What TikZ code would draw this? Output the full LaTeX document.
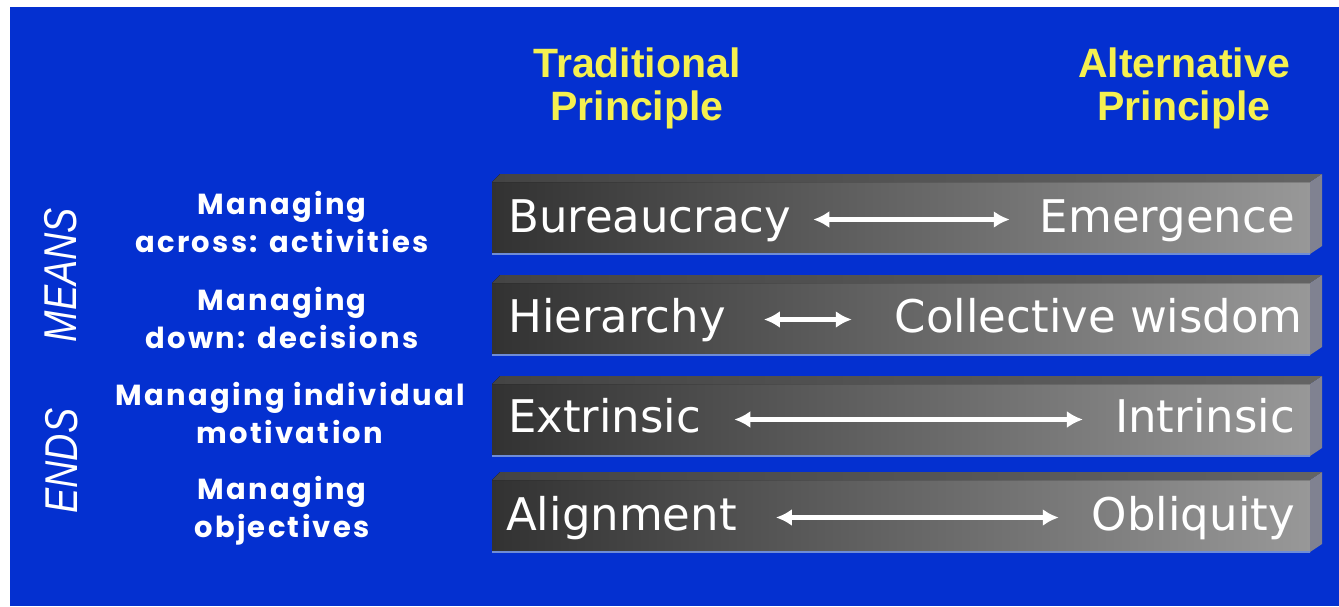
\documentclass[tikz,border=0pt]{standalone}
\usepackage{fontspec}
\usetikzlibrary{arrows.meta}
\newfontfamily\barfont{DejaVu Sans}
\newfontfamily\headfont{Liberation Sans}
\newfontfamily\labfont{Poppins}[LetterSpace=8]
\definecolor{bgblue}{RGB}{4,48,208}
\definecolor{headyellow}{RGB}{245,240,80}
\definecolor{barleft}{RGB}{50,50,50}
\definecolor{barright}{RGB}{152,152,152}
\definecolor{topleft}{RGB}{68,68,68}
\definecolor{topright}{RGB}{100,100,100}
\definecolor{sideface}{RGB}{128,130,145}
\definecolor{edgeblue}{RGB}{110,140,215}
\begin{document}
\begin{tikzpicture}[x=1pt,y=-1pt,
  head/.style={text=headyellow, font=\headfont\bfseries\fontsize{41}{43}\selectfont, align=center},
  lab/.style={text=white, font=\labfont\bfseries\fontsize{29}{38}\selectfont, align=center},
  side/.style={text=white, font=\headfont\itshape\fontsize{46}{50}\selectfont, rotate=90},
  bartxt/.style={text=white, font=\barfont\fontsize{45}{50}\selectfont, inner sep=0pt, text height=33pt, text depth=8pt},
  dbl/.style={white, line width=4.5pt, {Latex[length=16pt,width=17pt]}-{Latex[length=16pt,width=17pt]}}
]
\useasboundingbox (0,0) rectangle (1339,606);
\fill[white] (0,0) rectangle (1339,606);
\fill[bgblue] (10,7) rectangle (1339,606);

\foreach \ft in {182,283,384,480}{
  \fill[left color=barleft,right color=barright] (492,\ft) rectangle (1310,\ft+72);
  \fill[left color=topleft,right color=topright] (492,\ft) -- (500,\ft-8) -- (1322,\ft-8) -- (1310,\ft) -- cycle;
  \fill[sideface] (1310,\ft) -- (1322,\ft-8) -- (1322,\ft+64) -- (1310,\ft+72) -- cycle;
  \draw[edgeblue, line width=1.2pt] (492,\ft+72) -- (1310,\ft+72);
}

\node[head] (h1) at (637,88) {Traditional\\Principle};
\node[head] (h2) at (1184,88) {Alternative\\Principle};

\node[side] (means) at (61,275) {\scalebox{0.82}[1]{MEANS}};
\node[side] (ends) at (62,461) {\scalebox{0.82}[1]{ENDS}};

\node[lab] (m1) at (282,222) {Managing\\across: activities};
\node[lab] (m2) at (282,318) {Managing\\down: decisions};
\node[lab] (m3) at (290,413) {Managing individual\\motivation};
\node[lab] (m4) at (282,511) {Managing\\objectives};

\node[bartxt, anchor=west] (l1) at (508,219.5) {Bureaucracy};
\node[bartxt, anchor=east] (r1) at (1295,219.5) {Emergence};
\node[bartxt, anchor=west] (l2) at (508,319.5) {Hierarchy};
\node[bartxt, anchor=east] (r2) at (1303,319.5) {Collective wisdom};
\node[bartxt, anchor=west] (l3) at (508,419.5) {Extrinsic};
\node[bartxt, anchor=east] (r3) at (1295,419.5) {Intrinsic};
\node[bartxt, anchor=west] (l4) at (506,517.5) {Alignment};
\node[bartxt, anchor=east] (r4) at (1295,517.5) {Obliquity};

\draw[dbl, shorten <=22pt, shorten >=30pt] (l1.east) -- (r1.west);
\draw[dbl, shorten <=38pt, shorten >=43pt] (l2.east) -- (r2.west);
\draw[dbl, shorten <=33pt, shorten >=32pt] (l3.east) -- (r3.west);
\draw[dbl, shorten <=39pt, shorten >=33pt] (l4.east) -- (r4.west);
\end{tikzpicture}
\end{document}
